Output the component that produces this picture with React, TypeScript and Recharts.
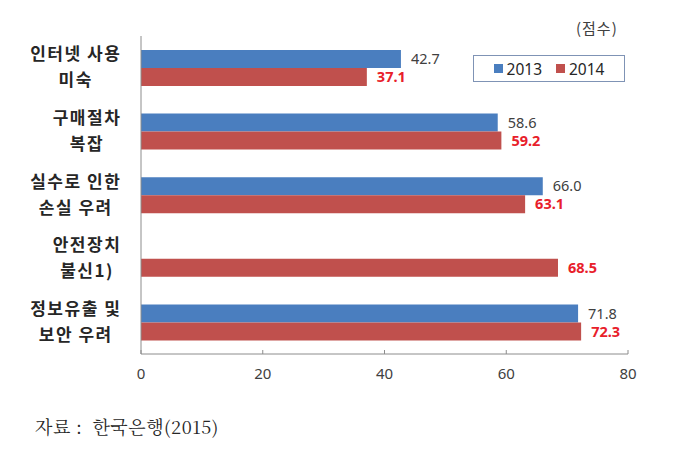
import React from 'react';
import { BarChart, Bar, XAxis, YAxis, LabelList } from 'recharts';

const categories = ['인터넷 사용|미숙', '구매절차|복잡', '실수로 인한|손실 우려', '안전장치|불신1)', '정보유출 및|보안 우려'];
const values2013: (number | null)[] = [42.7, 58.6, 66.0, null, 71.8];
const values2014: number[] = [37.1, 59.2, 63.1, 68.5, 72.3];
const xTicks = [0, 20, 40, 60, 80];
const seriesNames = ['2013', '2014'];

const data = categories.map((c, i) => ({ name: c, y2013: values2013[i], y2014: values2014[i] }));

const BLUE = '#4A7EBF';
const RED = '#C0504D';
const KFONT = '"Noto Sans CJK KR", "Noto Sans", sans-serif';

const lineWidth = (s: string) => {
  let w = 0;
  for (const ch of s) {
    if (/[가-힣]/.test(ch)) w += 18.5;
    else if (ch === ' ') w += 4;
    else w += 9;
  }
  return w;
};

const CatTick = (props: any) => {
  const { y, payload } = props;
  const lines = String(payload.value).split('|');
  const block = Math.max(...lines.map(lineWidth));
  const cx = 124 - block / 2;
  return (
    <g>
      {lines.map((l, i) => (
        <text key={i} x={cx} y={y + (i === 0 ? -12 : 14)} textAnchor="middle" dominantBaseline="middle"
          fontFamily={KFONT} fontWeight={700} fontSize={17} letterSpacing={1.5} fill="#262626">{l}</text>
      ))}
    </g>
  );
};

export default function App() {
  return (
    <div style={{ position: 'absolute', left: 0, top: 0, width: 695, height: 458, background: '#fff' }}>
      <BarChart width={695} height={458} data={data} layout="vertical"
        margin={{ top: 36, right: 67, bottom: 74, left: 0 }} barSize={18} barGap={0}>
        <XAxis type="number" domain={[0, 80]} ticks={xTicks} tickSize={-4} tickMargin={18}
          stroke="#8c8c8c" tick={{ fill: '#404040', fontSize: 15, fontFamily: '"Noto Sans", sans-serif' }} height={30} />
        <YAxis type="category" dataKey="name" width={141} stroke="#8c8c8c" tickLine={false} tick={<CatTick />} />
        <Bar dataKey="y2013" fill={BLUE} isAnimationActive={false}>
          <LabelList dataKey="y2013" position="right" offset={10}
            formatter={(v: any) => (v == null ? '' : Number(v).toFixed(1))}
            style={{ fill: '#404040', fontSize: 14.5, fontFamily: '"Noto Sans", sans-serif' }} />
        </Bar>
        <Bar dataKey="y2014" fill={RED} isAnimationActive={false}>
          <LabelList dataKey="y2014" position="right" offset={10}
            formatter={(v: any) => Number(v).toFixed(1)}
            style={{ fill: '#E8202A', fontSize: 14.5, fontWeight: 700, fontFamily: '"Noto Sans", sans-serif' }} />
        </Bar>
      </BarChart>
      <div style={{ position: 'absolute', left: 473, top: 55, border: '1.5px solid #7f93b5', width: 152, height: 27, boxSizing: 'border-box', display: 'flex', alignItems: 'center', justifyContent: 'center', gap: 14, fontFamily: '"Noto Sans", sans-serif', fontSize: 15.5, color: '#262626', background: '#fff' }}>
        <span style={{ display: 'flex', alignItems: 'center' }}><span style={{ width: 9, height: 9, background: BLUE, marginRight: 4 }} />{seriesNames[0]}</span>
        <span style={{ display: 'flex', alignItems: 'center' }}><span style={{ width: 9, height: 9, background: RED, marginRight: 4 }} />{seriesNames[1]}</span>
      </div>
      <div style={{ position: 'absolute', left: 576, top: 17, fontFamily: KFONT, fontSize: 15, letterSpacing: 1, color: '#404040' }}>(점수)</div>
      <div style={{ position: 'absolute', left: 35, top: 413, fontFamily: '"Noto Serif CJK KR", "Noto Sans CJK KR", serif', fontSize: 18, letterSpacing: 0.5, color: '#262626', whiteSpace: 'pre' }}>자료 :  한국은행(2015)</div>
    </div>
  );
}
